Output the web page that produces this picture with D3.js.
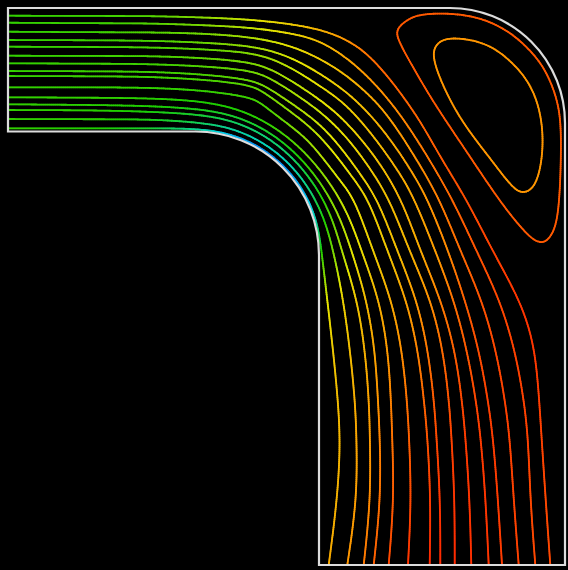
<!DOCTYPE html>
<html>
<head>
<meta charset="utf-8">
<script src="https://cdn.jsdelivr.net/npm/d3@7"></script>
<style>
  html, body { margin: 0; padding: 0; background: #000; }
  svg { display: block; }
</style>
</head>
<body>
<div id="chart"></div>
<script>
// channel geometry, data units, origin at the top-left corner, y pointing down
const boxSize = 557;
const inletHeight = 123.5;
const outletStart = 311;
const innerRadius = 123.5;
const outerRadius = 115;

// streamlines: [x, y, colour value]
const line01 = [[0,7.7,.42],[92,8,.43],[142,8,.45],[192,9.3,.5],[242,11.3,.58],[292,17,.68],[325,25,.76],[352,39,.84],[373,60,.88],[392,84,.88],[413,114,.88],[434,152,.9],[459,192,.92],[484,242,.94],[512,292,.96],[525,332,.96],[530,372,.95],[533.7,432,.94],[537.7,492,.93],[542.3,557,.93]];
const line02 = [[0,14.7,.42],[92,15.3,.43],[142,15.3,.45],[192,17,.49],[242,19.3,.56],[282,25,.63],[311,32,.7],[338,49,.76],[363,71,.8],[392,105,.82],[420,149,.85],[445,192,.88],[468,242,.91],[492,292,.93],[507,342,.94],[516,392,.94],[520.3,432,.94],[522.3,492,.93],[527.3,557,.93]];
const line03 = [[0,23.7,.42],[92,24.3,.43],[142,24.3,.45],[192,25.3,.48],[242,28.7,.54],[277,36,.6],[303,46,.65],[330,61,.7],[354,80,.74],[374,100,.77],[392,125,.79],[412,157,.81],[432,192,.84],[452,242,.87],[474,292,.91],[488,342,.93],[497,392,.94],[502,432,.94],[505.7,492,.94],[510.7,557,.94]];
const line04 = [[0,32,.42],[92,32.3,.43],[142,32.7,.44],[192,34.3,.47],[242,37.7,.52],[272,45,.57],[297,56.5,.61],[322,72,.65],[345,89,.69],[370,115,.73],[392,145,.76],[407,169,.78],[420,192,.8],[440,242,.82],[457,292,.89],[471,342,.92],[480,392,.94],[485.3,432,.95],[490,492,.95],[494,557,.95]];
const line05 = [[0,38.7,.42],[92,39,.43],[142,39.3,.44],[192,41,.46],[242,44.3,.5],[268,52,.54],[292,65,.58],[315,80,.62],[338,96,.66],[365,127,.7],[392,165,.74],[407,192,.76],[427,242,.78],[446,292,.86],[459,342,.9],[468,392,.93],[473,432,.95],[477.7,492,.96],[480.7,557,.96]];
const line06 = [[0,47.7,.42],[92,48,.43],[142,48,.44],[192,49.7,.46],[242,53.7,.49],[265,62,.52],[286.5,74.7,.55],[308,89,.59],[329,105,.62],[350,127,.66],[372,155,.7],[394,192,.73],[412,242,.75],[433,292,.84],[447,342,.89],[454,392,.93],[457.7,432,.95],[461.7,492,.96],[463.3,557,.97]];
const line07 = [[0,55.3,.42],[92,55.7,.43],[142,56,.43],[192,58,.45],[242,62,.48],[262,70,.5],[282,82.5,.53],[302,96,.56],[322,112,.59],[342,133,.63],[362,160,.67],[382,192,.7],[401,242,.72],[423,292,.81],[435,342,.87],[441,392,.91],[443.7,432,.94],[446.7,492,.96],[446.7,557,.98]];
const line08 = [[0,63,.42],[92,63.3,.43],[142,63.7,.43],[192,66,.44],[242,71.3,.47],[259,79,.49],[277,91,.52],[296,104,.55],[315,119,.58],[335,142,.62],[353,167,.65],[370,192,.68],[389,242,.7],[409,292,.79],[420,342,.85],[426,392,.9],[428.7,432,.93],[432.3,492,.96],[432.3,557,.98]];
const line09 = [[0,68,.42],[92,68.3,.43],[142,68.7,.43],[192,71.3,.44],[242,76.3,.46],[257,85,.48],[273.5,97,.5],[291,110,.53],[309,125,.56],[328,147,.6],[345,170,.63],[361,192,.66],[379,242,.68],[398.7,292,.77],[410,342,.83],[416,392,.88],[419.7,432,.91],[422.7,492,.95],[421.7,557,.98]];
const line10 = [[0,79.3,.42],[92,79.3,.42],[142,79.7,.42],[192,82,.42],[242,88.7,.43],[254,96,.44],[268,107,.46],[284,119,.49],[301,133,.52],[318,154,.56],[334,175,.6],[347,192,.63],[364.7,242,.66],[383.7,292,.75],[394,342,.81],[399,392,.86],[401.3,432,.89],[403.3,492,.93],[400,557,.96]];
const line11 = [[0,89.3,.42],[92,89.7,.42],[142,90.3,.41],[187,92.5,.4],[226.6,99.2,.4],[262.8,115.8,.42],[293.8,140.2,.46],[319.5,170.5,.52],[340.6,205.8,.58],[355,247,.63],[371.3,292,.73],[380,342,.79],[383,392,.83],[384.3,432,.86],[386,492,.9],[380.7,557,.93]];
const line12 = [[0,96.3,.42],[92,97,.41],[142,98,.4],[187,100.5,.38],[224.7,106.5,.36],[259.3,121.9,.36],[288.8,145.2,.39],[313,174.3,.46],[331.9,208.2,.53],[345,247,.6],[358.7,292,.71],[367,342,.76],[370,392,.8],[372,432,.83],[372.7,492,.86],[365.7,557,.89]];
const line13 = [[0,102,.42],[92,102.3,.41],[142,103.7,.39],[187,106,.36],[223.2,111.8,.32],[256.5,126.6,.3],[284.9,149.1,.31],[307.8,177.3,.37],[324.6,210.1,.46],[335,247,.55],[349.3,292,.68],[357,342,.73],[361,392,.77],[362,432,.79],[362.7,492,.82],[355.7,557,.85]];
const line14 = [[0,111,.42],[92,111.3,.41],[142,111.3,.38],[187,114,.33],[221.5,119,.27],[253.3,132.7,.24],[280.6,153.7,.24],[302.1,180.8,.29],[317.2,212.2,.4],[326.3,247,.5],[335.3,292,.65],[342,342,.7],[347,392,.74],[348.7,432,.76],[349,492,.78],[339.3,557,.8]];
const line15 = [[0,120.3,.42],[92,120.3,.4],[142,120.3,.36],[187.5,120.5,.28],[220.2,124.8,.18],[250.8,137.5,.12],[276.9,157.6,.12],[297.1,183.7,.16],[309.7,214.3,.26],[314,247,.42],[319.3,292,.6],[325,342,.67],[329,382,.7],[332.7,432,.72],[329.3,492,.73],[320.7,557,.75]];

// recirculation bubble in the outer corner (closed contours)
const loopOuter = [[396,14,.9],[407,7.5,.9],[424,5.5,.9],[442,5.5,.9],[464,8,.9],[484,14.5,.9],[503,25,.9],[519,39,.9],[533,55,.9],[543,74,.9],[550,95,.9],[553,117,.9],[553,152,.9],[551.5,192,.9],[548,220,.9],[539,234,.9],[530,235,.9],[518,226,.9],[492,194,.9],[459,144,.9],[425,94,.9],[402,54,.9],[390,32,.9],[388,22,.9]];
const loopInner = [[424,47,.8],[428,36,.8],[438,30,.8],[458,30.5,.8],[482,37,.8],[502,52,.8],[520,72,.8],[531,97,.8],[535.5,127,.8],[533.5,157,.8],[527,179,.8],[516,186,.8],[505,181,.8],[482,150,.8],[452,112,.8],[432,72,.8]];

const streamlines = [line01, line02, line03, line04, line05, line06, line07, line08,
                     line09, line10, line11, line12, line13, line14, line15];
const loops = [loopOuter, loopInner];

// rainbow colour map
const colourStops = [0, 0.2, 0.4, 0.6, 0.8, 1];
const colourRange = ["#0028ff", "#00d2e6", "#1ecd00", "#e6e600", "#ff9600", "#ff1e00"];

const width = 568, height = 570;

const svg = d3.select("#chart")
    .append("svg")
    .attr("width", width)
    .attr("height", height);

svg.append("rect")
    .attr("width", width)
    .attr("height", height)
    .attr("fill", "#000");

let x = d3.scaleLinear().domain([0, boxSize]).range([8, 565]);
let y = d3.scaleLinear().domain([0, boxSize]).range([8, 565]);
let colour = d3.scaleLinear().domain(colourStops).range(colourRange).clamp(true);

function drawStream(points, closed) {
    let gen = d3.line()
        .x(function (d) { return x(d[0]) })
        .y(function (d) { return y(d[1]) })
        .curve(closed ? d3.curveBasisClosed : d3.curveBasis);

    // hidden path, only used to sample the curve
    let tmp = svg.append("path").attr("d", gen(points)).attr("fill", "none");
    let node = tmp.node();
    let total = node.getTotalLength();

    // fraction of the length at each data point (polyline estimate)
    let pts = closed ? points.concat([points[0]]) : points;
    let cum = [0];
    for (let i = 1; i < pts.length; i++) {
        let dx = x(pts[i][0]) - x(pts[i - 1][0]);
        let dy = y(pts[i][1]) - y(pts[i - 1][1]);
        cum.push(cum[i - 1] + Math.hypot(dx, dy));
    }
    let fr = cum.map(v => v / cum[cum.length - 1]);

    let n = Math.ceil(total / 2);
    let samples = [];
    for (let k = 0; k <= n; k++) {
        let p = node.getPointAtLength(total * k / n);
        samples.push([p.x, p.y]);
    }
    tmp.remove();

    let segs = [];
    for (let k = 0; k < n; k++) {
        let f = (k + 0.5) / n;
        let i = Math.min(Math.max(d3.bisectRight(fr, f) - 1, 0), pts.length - 2);
        let t = (f - fr[i]) / (fr[i + 1] - fr[i]);
        let c = pts[i][2] + t * (pts[i + 1][2] - pts[i][2]);
        segs.push({ a: samples[k], b: samples[k + 1], c: c });
    }

    svg.append("g")
        .selectAll("line")
        .data(segs)
        .enter()
        .append("line")
        .attr("x1", d => d.a[0]).attr("y1", d => d.a[1])
        .attr("x2", d => d.b[0]).attr("y2", d => d.b[1])
        .attr("stroke", d => colour(d.c))
        .attr("stroke-width", 1.8)
        .attr("stroke-linecap", "round");
}

streamlines.forEach(function (l) { drawStream(l, false); });
loops.forEach(function (l) { drawStream(l, true); });

// channel walls
let wall = d3.path();
wall.moveTo(x(0), y(inletHeight));
wall.lineTo(x(0), y(0));
wall.lineTo(x(boxSize - outerRadius), y(0));
wall.arc(x(boxSize - outerRadius), y(outerRadius), x(outerRadius) - x(0), -Math.PI / 2, 0);
wall.lineTo(x(boxSize), y(boxSize));
wall.lineTo(x(outletStart), y(boxSize));
wall.lineTo(x(outletStart), y(inletHeight + innerRadius));
wall.arc(x(outletStart - innerRadius), y(inletHeight + innerRadius), x(innerRadius) - x(0), 0, -Math.PI / 2, true);
wall.closePath();

svg.append("path")
    .attr("d", wall.toString())
    .attr("fill", "none")
    .attr("stroke", "#dcdcdc")
    .attr("stroke-width", 2.2);
</script>
</body>
</html>
